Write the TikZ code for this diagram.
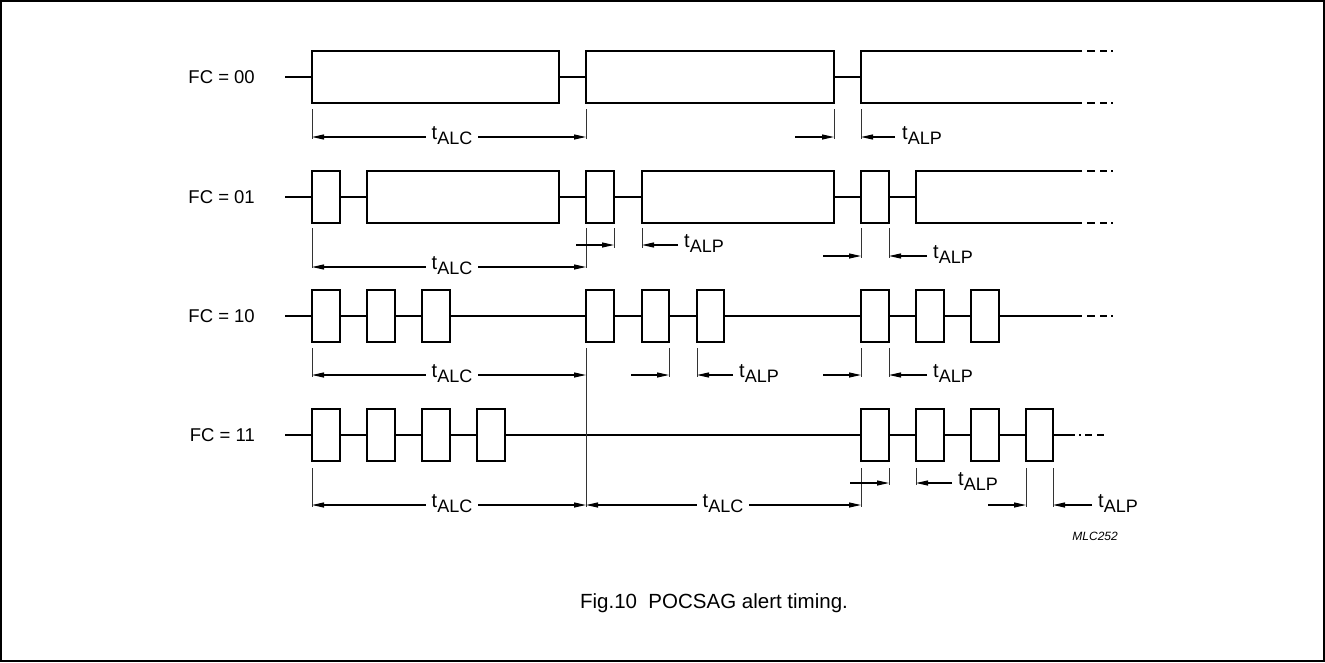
\documentclass[tikz,border=0pt]{standalone}
\usepackage{fontspec}
\setmainfont{Liberation Sans}
\usetikzlibrary{arrows.meta}
\newcommand{\tlab}[1]{t\raisebox{-5pt}{\fontsize{18}{18}\selectfont #1}}
\tikzset{
  sig/.style={line width=2.6pt},
  pulse/.style={line width=2.6pt, fill=white},
  tickln/.style={line width=0.8pt, black!80},
  dimarrow/.style={line width=1.1pt, -{Triangle[length=12pt,width=5pt]}},
  dimboth/.style={line width=1.1pt, {Triangle[length=12pt,width=5pt]}-{Triangle[length=12pt,width=5pt]}},
  fclabel/.style={font=\fontsize{18.5}{22}\selectfont, inner sep=0pt, anchor=east},
  tmid/.style={font=\fontsize{20}{22}\selectfont, inner sep=0pt, inner xsep=6pt, fill=white},
  tright/.style={font=\fontsize{20}{22}\selectfont, inner sep=0pt, anchor=west},
  enddash/.style={line width=2.6pt, dash pattern=on 8pt off 5pt on 7pt off 4pt on 2pt off 10pt},
}
\begin{document}
\begin{tikzpicture}[x=1pt,y=-1pt]
\useasboundingbox (0,0) rectangle (1325,662);
\draw[line width=1.5pt] (1,1) rectangle (1324,661);

% ---------- row labels
\node[fclabel] (l00) at (255,77) {FC = 00};
\node[fclabel] (l01) at (255,197) {FC = 01};
\node[fclabel] (l10) at (255,316) {FC = 10};
\node[fclabel] (l11) at (255,435) {FC = 11};

% ---------- FC = 00
\draw[sig] (285,77) -- (861,77);
\draw[pulse] (312,51) rectangle (559,103);
\draw[pulse] (586,51) rectangle (834,103);
\draw[sig] (1082,51) -- (861,51) -- (861,103) -- (1082,103);
\draw[enddash] (1087,51) -- (1114,51);
\draw[enddash] (1087,103) -- (1114,103);

% ---------- FC = 01
\draw[sig] (285,197) -- (916,197);
\draw[pulse] (312,171) rectangle (340,223);
\draw[pulse] (367,171) rectangle (559,223);
\draw[pulse] (586,171) rectangle (614,223);
\draw[pulse] (642,171) rectangle (834,223);
\draw[pulse] (861,171) rectangle (889,223);
\draw[sig] (1082,171) -- (916,171) -- (916,223) -- (1082,223);
\draw[enddash] (1087,171) -- (1114,171);
\draw[enddash] (1087,223) -- (1114,223);

% ---------- FC = 10
\draw[sig] (285,316) -- (1082,316);
\foreach \a/\b in {312/340,367/395,422/450,586/614,642/669,697/724,861/889,916/944,971/999}
  \draw[pulse] (\a,290) rectangle (\b,342);
\draw[enddash] (1087,316) -- (1114,316);

% ---------- FC = 11
\draw[sig] (285,435) -- (1053,435);
\foreach \a/\b in {312/340,367/395,422/450,477/505,861/889,916/944,971/999,1026/1053}
  \draw[pulse] (\a,409) rectangle (\b,461);
\draw[line width=2.6pt, dash pattern=on 22pt off 4pt on 2pt off 4pt on 7pt off 5pt on 7pt off 20pt] (1053,435) -- (1108,435);

% ========== dimensions row 1
\draw[tickln] (312,109) -- (312,139);
\draw[tickln] (586,109) -- (586,139);
\draw[dimboth] (312,137) -- (586,137);
\node[tmid] (alc1) at (452,136) {\tlab{ALC}};
\draw[tickln] (834,109) -- (834,139);
\draw[tickln] (861,109) -- (861,139);
\draw[dimarrow] (795,137) -- (834,137);
\draw[dimarrow] (895,137) -- (861,137);
\node[tright] (alp1) at (902,136) {\tlab{ALP}};

% ========== dimensions row 2
\draw[tickln] (312,228) -- (312,268);
\draw[tickln] (586,228) -- (586,268);
\draw[dimboth] (312,267) -- (586,267);
\node[tmid] (alc2) at (452,266) {\tlab{ALC}};
\draw[tickln] (614,228) -- (614,248);
\draw[tickln] (642,228) -- (642,248);
\draw[dimarrow] (576,245) -- (614,245);
\draw[dimarrow] (678,245) -- (642,245);
\node[tright] (alp2a) at (684,244) {\tlab{ALP}};
\draw[tickln] (861,228) -- (861,258);
\draw[tickln] (889,228) -- (889,258);
\draw[dimarrow] (823,256) -- (861,256);
\draw[dimarrow] (927,256) -- (889,256);
\node[tright] (alp2b) at (933,255) {\tlab{ALP}};

% ========== dimensions row 3
\draw[tickln] (312,348) -- (312,377);
\draw[tickln] (586,348) -- (586,507);
\draw[dimboth] (312,375) -- (586,375);
\node[tmid] (alc3) at (452,374) {\tlab{ALC}};
\draw[tickln] (669,348) -- (669,377);
\draw[tickln] (697,348) -- (697,377);
\draw[dimarrow] (631,375) -- (669,375);
\draw[dimarrow] (733,375) -- (697,375);
\node[tright] (alp3a) at (739,374) {\tlab{ALP}};
\draw[tickln] (861,348) -- (861,377);
\draw[tickln] (889,348) -- (889,377);
\draw[dimarrow] (823,375) -- (861,375);
\draw[dimarrow] (927,375) -- (889,375);
\node[tright] (alp3b) at (933,374) {\tlab{ALP}};

% ========== dimensions row 4
\draw[tickln] (312,468) -- (312,507);
\draw[tickln] (861,468) -- (861,507);
\draw[dimboth] (312,505) -- (586,505);
\draw[dimboth] (586,505) -- (861,505);
\node[tmid] (alc4a) at (452,504) {\tlab{ALC}};
\node[tmid] (alc4b) at (723,504) {\tlab{ALC}};
\draw[tickln] (889,468) -- (889,485);
\draw[tickln] (916,468) -- (916,485);
\draw[dimarrow] (850,483) -- (889,483);
\draw[dimarrow] (952,483) -- (916,483);
\node[tright] (alp4a) at (958,482) {\tlab{ALP}};
\draw[tickln] (1026,468) -- (1026,507);
\draw[tickln] (1053,468) -- (1053,507);
\draw[dimarrow] (988,505) -- (1026,505);
\draw[dimarrow] (1092,505) -- (1053,505);
\node[tright] (alp4b) at (1098,504) {\tlab{ALP}};

% ---------- figure id and caption
\node[font=\fontsize{12}{14}\selectfont\itshape, inner sep=0pt, anchor=east] (id) at (1118,536) {MLC252};
\node[font=\fontsize{20.5}{24}\selectfont, inner sep=0pt] (cap) at (714,603) {Fig.10\ \ POCSAG alert timing.};
\end{tikzpicture}
\end{document}
